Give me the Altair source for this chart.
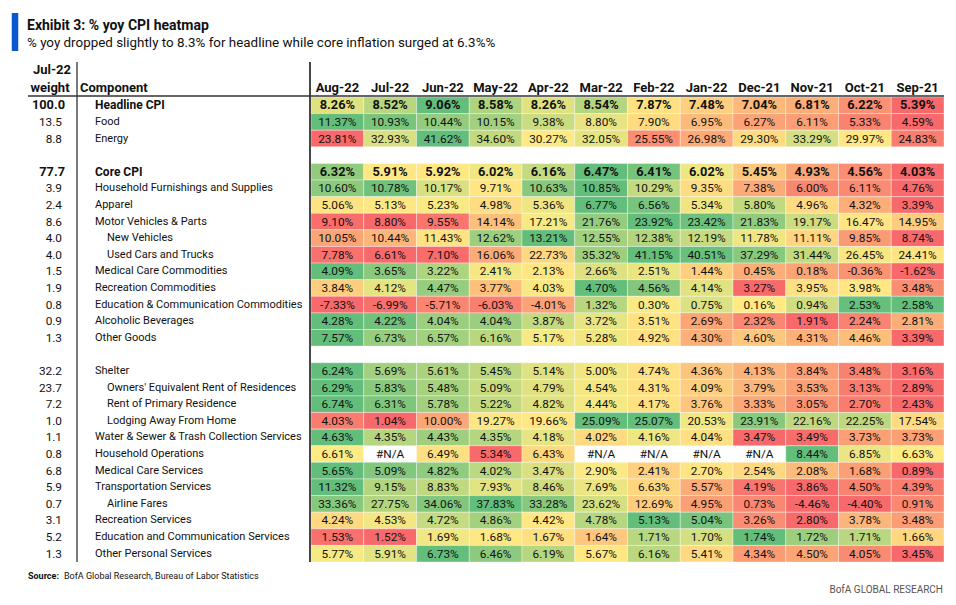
import altair as alt
import pandas as pd
import numpy as np

FONT = "Roboto"

months = ["Aug-22", "Jul-22", "Jun-22", "May-22", "Apr-22", "Mar-22",
          "Feb-22", "Jan-22", "Dec-21", "Nov-21", "Oct-21", "Sep-21"]

# Row order (None = blank spacer row)
components = [
    "Headline CPI", "Food", "Energy", None,
    "Core CPI", "Household Furnishings and Supplies", "Apparel",
    "Motor Vehicles & Parts", "New Vehicles", "Used Cars and Trucks",
    "Medical Care Commodities", "Recreation Commodities",
    "Education & Communication Commodities", "Alcoholic Beverages",
    "Other Goods", None,
    "Shelter", "Owners' Equivalent Rent of Residences",
    "Rent of Primary Residence", "Lodging Away From Home",
    "Water & Sewer & Trash Collection Services", "Household Operations",
    "Medical Care Services", "Transportation  Services", "Airline Fares",
    "Recreation Services", "Education and Communication  Services",
    "Other Personal Services",
]

weights = {
    "Headline CPI": "100.0", "Food": "13.5", "Energy": "8.8",
    "Core CPI": "77.7", "Household Furnishings and Supplies": "3.9",
    "Apparel": "2.4", "Motor Vehicles & Parts": "8.6", "New Vehicles": "4.0",
    "Used Cars and Trucks": "4.0", "Medical Care Commodities": "1.5",
    "Recreation Commodities": "1.9",
    "Education & Communication Commodities": "0.8",
    "Alcoholic Beverages": "0.9", "Other Goods": "1.3", "Shelter": "32.2",
    "Owners' Equivalent Rent of Residences": "23.7",
    "Rent of Primary Residence": "7.2", "Lodging Away From Home": "1.0",
    "Water & Sewer & Trash Collection Services": "1.1",
    "Household Operations": "0.8", "Medical Care Services": "6.8",
    "Transportation  Services": "5.9", "Airline Fares": "0.7",
    "Recreation Services": "3.1",
    "Education and Communication  Services": "5.2",
    "Other Personal Services": "1.3",
}

bold_rows = ["Headline CPI", "Core CPI"]
indented_rows = ["New Vehicles", "Used Cars and Trucks",
                 "Owners' Equivalent Rent of Residences",
                 "Rent of Primary Residence", "Lodging Away From Home",
                 "Airline Fares"]

NA = None
headline = [8.26, 8.52, 9.06, 8.58, 8.26, 8.54, 7.87, 7.48, 7.04, 6.81, 6.22, 5.39]
food = [11.37, 10.93, 10.44, 10.15, 9.38, 8.80, 7.90, 6.95, 6.27, 6.11, 5.33, 4.59]
energy = [23.81, 32.93, 41.62, 34.60, 30.27, 32.05, 25.55, 26.98, 29.30, 33.29, 29.97, 24.83]
core = [6.32, 5.91, 5.92, 6.02, 6.16, 6.47, 6.41, 6.02, 5.45, 4.93, 4.56, 4.03]
furnishings = [10.60, 10.78, 10.17, 9.71, 10.63, 10.85, 10.29, 9.35, 7.38, 6.00, 6.11, 4.76]
apparel = [5.06, 5.13, 5.23, 4.98, 5.36, 6.77, 6.56, 5.34, 5.80, 4.96, 4.32, 3.39]
motor = [9.10, 8.80, 9.55, 14.14, 17.21, 21.76, 23.92, 23.42, 21.83, 19.17, 16.47, 14.95]
new_veh = [10.05, 10.44, 11.43, 12.62, 13.21, 12.55, 12.38, 12.19, 11.78, 11.11, 9.85, 8.74]
used_cars = [7.78, 6.61, 7.10, 16.06, 22.73, 35.32, 41.15, 40.51, 37.29, 31.44, 26.45, 24.41]
med_comm = [4.09, 3.65, 3.22, 2.41, 2.13, 2.66, 2.51, 1.44, 0.45, 0.18, -0.36, -1.62]
rec_comm = [3.84, 4.12, 4.47, 3.77, 4.03, 4.70, 4.56, 4.14, 3.27, 3.95, 3.98, 3.48]
edu_comm = [-7.33, -6.99, -5.71, -6.03, -4.01, 1.32, 0.30, 0.75, 0.16, 0.94, 2.53, 2.58]
alcohol = [4.28, 4.22, 4.04, 4.04, 3.87, 3.72, 3.51, 2.69, 2.32, 1.91, 2.24, 2.81]
other_goods = [7.57, 6.73, 6.57, 6.16, 5.17, 5.28, 4.92, 4.30, 4.60, 4.31, 4.46, 3.39]
shelter = [6.24, 5.69, 5.61, 5.45, 5.14, 5.00, 4.74, 4.36, 4.13, 3.84, 3.48, 3.16]
oer = [6.29, 5.83, 5.48, 5.09, 4.79, 4.54, 4.31, 4.09, 3.79, 3.53, 3.13, 2.89]
rent = [6.74, 6.31, 5.78, 5.22, 4.82, 4.44, 4.17, 3.76, 3.33, 3.05, 2.70, 2.43]
lodging = [4.03, 1.04, 10.00, 19.27, 19.66, 25.09, 25.07, 20.53, 23.91, 22.16, 22.25, 17.54]
water = [4.63, 4.35, 4.43, 4.35, 4.18, 4.02, 4.16, 4.04, 3.47, 3.49, 3.73, 3.73]
hh_ops = [6.61, NA, 6.49, 5.34, 6.43, NA, NA, NA, NA, 8.44, 6.85, 6.63]
med_serv = [5.65, 5.09, 4.82, 4.02, 3.47, 2.90, 2.41, 2.70, 2.54, 2.08, 1.68, 0.89]
transport = [11.32, 9.15, 8.83, 7.93, 8.46, 7.69, 6.63, 5.57, 4.19, 3.86, 4.50, 4.39]
airline = [33.36, 27.75, 34.06, 37.83, 33.28, 23.62, 12.69, 4.95, 0.73, -4.46, -4.40, 0.91]
rec_serv = [4.24, 4.53, 4.72, 4.86, 4.42, 4.78, 5.13, 5.04, 3.26, 2.80, 3.78, 3.48]
edu_serv = [1.53, 1.52, 1.69, 1.68, 1.67, 1.64, 1.71, 1.70, 1.74, 1.72, 1.71, 1.66]
other_pers = [5.77, 5.91, 6.73, 6.46, 6.19, 5.67, 6.16, 5.41, 4.34, 4.50, 4.05, 3.45]

series = [headline, food, energy, core, furnishings, apparel, motor, new_veh,
          used_cars, med_comm, rec_comm, edu_comm, alcohol, other_goods,
          shelter, oer, rent, lodging, water, hh_ops, med_serv, transport,
          airline, rec_serv, edu_serv, other_pers]

# ---- build tables ----
row_keys = []
gap = 0
for c in components:
    if c is None:
        gap += 1
        row_keys.append(f"_gap{gap}")
    else:
        row_keys.append(c)

names = [c for c in components if c is not None]
cells = []
for name, vals in zip(names, series):
    for m, v in zip(months, vals):
        cells.append({
            "row": name, "month": m,
            "v": np.nan if v is None else v,
            "label": "#N/A" if v is None else f"{v:.2f}%",
            "bold": name in bold_rows,
        })
cells_df = pd.DataFrame(cells)

left_df = pd.DataFrame({
    "row": names,
    "weight": [weights[n] for n in names],
    "bold": [n in bold_rows for n in names],
    "indent": [n in indented_rows for n in names],
})
months_df = pd.DataFrame({"month": months})

# ---- scales ----
xscale = alt.Scale(domain=months, range=[303, 936], paddingInner=0, paddingOuter=0)
yscale = alt.Scale(domain=row_keys, range=[89, 554], paddingInner=0, paddingOuter=0)
X = alt.X("month:N", scale=xscale, axis=None)
Y = alt.Y("row:N", scale=yscale, axis=None)

heat = (
    alt.Chart(cells_df)
    .transform_filter("isValid(datum.v) && !isNaN(datum.v)")
    .transform_joinaggregate(mn="min(v)", mx="max(v)", md="median(v)", groupby=["row"])
    .transform_calculate(
        t="datum.v <= datum.md ? 0.5*(datum.v - datum.mn)/max(datum.md - datum.mn, 1e-9)"
          " : 0.5 + 0.5*(datum.v - datum.md)/max(datum.mx - datum.md, 1e-9)"
    )
    .mark_rect(stroke="white", strokeWidth=0.8, strokeOpacity=0.45)
    .encode(
        x=X, y=Y,
        color=alt.Color("t:Q", legend=None,
                        scale=alt.Scale(domain=[0, 0.5, 1],
                                        range=["#F8696B", "#FFEB84", "#63BE7B"],
                                        interpolate="rgb")),
    )
)

NORMAL_SIZE = 11.8
BOLD_SIZE = 12.8


def txt(df, flt, weight, size, **kw):
    base = alt.Chart(df)
    if flt:
        base = base.transform_filter(flt)
    return base.mark_text(font=FONT, fontSize=size, color="#111111", baseline="middle",
                          fontWeight=weight, **kw)


values_n = txt(cells_df, "!datum.bold", "normal", NORMAL_SIZE).encode(x=X, y=Y, text="label:N")
values_b = txt(cells_df, "datum.bold", "bold", BOLD_SIZE).encode(x=X, y=Y, text="label:N")

weights_n = txt(left_df, "!datum.bold", "normal", NORMAL_SIZE, align="right").encode(
    x=alt.value(54), y=Y, text="weight:N")
weights_b = txt(left_df, "datum.bold", "bold", BOLD_SIZE, align="right").encode(
    x=alt.value(57), y=Y, text="weight:N")

names_main_n = txt(left_df, "!datum.indent && !datum.bold", "normal", 11, align="left").encode(
    x=alt.value(87), y=Y, text="row:N")
names_main_b = txt(left_df, "!datum.indent && datum.bold", "bold", 12, align="left").encode(
    x=alt.value(87), y=Y, text="row:N")
names_sub = txt(left_df, "datum.indent", "normal", 11, align="left").encode(
    x=alt.value(99), y=Y, text="row:N")

month_headers = (
    alt.Chart(months_df)
    .mark_text(font=FONT, fontSize=13, fontWeight="bold", color="#111111", baseline="middle")
    .encode(x=X, y=alt.value(80), text="month:N")
)

one = pd.DataFrame({"k": [0]})


def label(s, x, y, size, weight="normal", align="left", color="#111111", baseline="middle"):
    return alt.Chart(one).mark_text(
        font=FONT, fontSize=size, fontWeight=weight, color=color, align=align, baseline=baseline
    ).encode(x=alt.value(x), y=alt.value(y), text=alt.value(s))


hdr_w1 = label("Jul-22", 44, 62, 13, "bold", "center")
hdr_w2 = label("weight", 42, 80, 13, "bold", "center")
hdr_c = label("Component", 72, 80, 13, "bold", "left")

hline = alt.Chart(one).mark_rule(color="#333333", strokeWidth=1.5).encode(
    x=alt.value(20), x2=alt.value(936), y=alt.value(88))
vline1 = alt.Chart(one).mark_rule(color="#333333", strokeWidth=1.3).encode(
    x=alt.value(69), y=alt.value(54), y2=alt.value(554))
vline2 = alt.Chart(one).mark_rule(color="#333333", strokeWidth=1.8).encode(
    x=alt.value(302), y=alt.value(54), y2=alt.value(554))
bluebar = alt.Chart(one).mark_rule(color="#0B57D0", strokeWidth=6.5).encode(
    x=alt.value(7), y=alt.value(5), y2=alt.value(43))

title_txt = label("Exhibit 3: % yoy CPI heatmap", 19, 22, 14, "bold", baseline="alphabetic")
subtitle_txt = label(
    "% yoy dropped slightly to 8.3%  for headline while core inflation surged at 6.3%%",
    19, 39, 13.4, baseline="alphabetic")
source_b = label("Source:", 20, 568, 9, "bold")
source_r = label("BofA Global Research, Bureau of Labor Statistics", 56, 568, 9)
brand = label("BofA GLOBAL RESEARCH", 935, 582, 10, align="right", color="#555555")

chart = alt.layer(
    heat, values_n, values_b, weights_n, weights_b, names_main_n, names_main_b,
    names_sub, month_headers, hdr_w1, hdr_w2, hdr_c, hline, vline1, vline2,
    bluebar, title_txt, subtitle_txt, source_b, source_r, brand,
).properties(
    width=940, height=589,
    autosize=alt.AutoSizeParams(type="none"),
    padding=0,
).configure_view(stroke=None)

chart.save("out.html", embed_options={"renderer": "svg", "actions": False})
